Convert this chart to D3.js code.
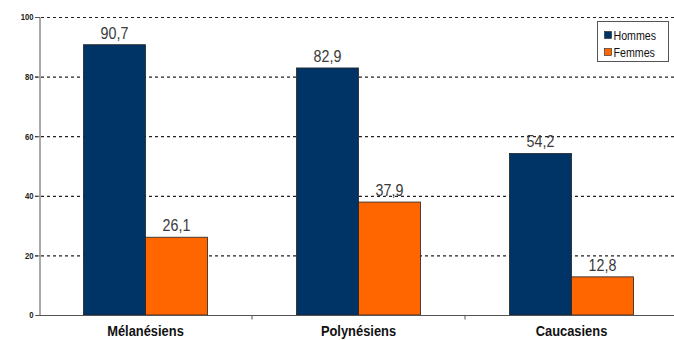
<!DOCTYPE html>
<html><head><meta charset="utf-8">
<script src="https://cdn.jsdelivr.net/npm/d3@7"></script>
<style>body{margin:0;background:#fff}svg{display:block}</style>
</head><body>
<svg id="c" width="674" height="340"></svg>
<script>
const categories = ["Mélanésiens", "Polynésiens", "Caucasiens"];
const series = ["Hommes", "Femmes"];
const hommes = [90.7, 82.9, 54.2];
const femmes = [26.1, 37.9, 12.8];
const yTicks = [0, 20, 40, 60, 80, 100];
const colors = ["#003366", "#ff6600"];

const FONT = "'Liberation Sans', Arial, sans-serif";
const svg = d3.select("#c");
const x0 = d3.scaleBand().domain(categories).range([39, 678]);
const bw = x0.bandwidth();
const x1 = d3.scaleBand().domain(series).range([bw * 0.209, bw * 0.791]);
const y = d3.scaleLinear().domain([0, 100]).range([315, 17]);
const data = categories.map((c, i) => ({cat: c, vals: [hommes[i], femmes[i]]}));

// gridlines
svg.append("g").selectAll("line").data(yTicks.filter(t => t > 0)).join("line")
  .attr("x1", 35).attr("x2", 674)
  .attr("y1", d => y(d) + 0.5).attr("y2", d => y(d) + 0.5)
  .attr("stroke", "#222").attr("stroke-width", 1.2).attr("stroke-dasharray", "3,3");

// y axis
const yAxis = svg.append("g").attr("transform", "translate(39.5,0)")
  .call(d3.axisLeft(y).tickValues(yTicks).tickSize(4).tickFormat(d3.format("d")));
yAxis.select(".domain").attr("stroke", "#555");
yAxis.selectAll(".tick line").attr("stroke", "#555");
yAxis.selectAll("text").attr("font-family", FONT)
  .attr("font-size", 9).attr("font-weight", "bold").attr("fill", "#222").attr("x", -6)
  .attr("transform", "scale(0.85,1)").attr("dx", -1);

// bars
const groups = svg.append("g").selectAll("g").data(data).join("g")
  .attr("transform", d => `translate(${x0(d.cat)},0)`);
groups.selectAll("rect").data(d => d.vals.map((v, j) => ({s: series[j], v, j}))).join("rect")
  .attr("x", d => x1(d.s)).attr("width", x1.bandwidth())
  .attr("y", d => y(d.v)).attr("height", d => y(0) - y(d.v))
  .attr("fill", d => colors[d.j]).attr("stroke", "#222").attr("stroke-width", 0.8);
groups.selectAll("text").data(d => d.vals.map((v, j) => ({s: series[j], v, j}))).join("text")
  .attr("transform", d => `translate(${x1(d.s) + x1.bandwidth() / 2},${y(d.v) - 6}) scale(0.84,1)`)
  .attr("text-anchor", "middle")
  .attr("font-family", FONT)
  .attr("font-size", 17).attr("fill", "#3a3a3a")
  .text(d => d3.format(".1f")(d.v).replace(".", ","));

// x axis
const xAxis = svg.append("g").attr("transform", "translate(0,315.5)");
xAxis.append("line").attr("x1", 39).attr("x2", 674).attr("stroke", "#555");
xAxis.selectAll("line.t").data(categories.slice(1)).join("line").attr("class", "t")
  .attr("x1", d => x0(d)).attr("x2", d => x0(d)).attr("y1", 0).attr("y2", 4).attr("stroke", "#555");
xAxis.selectAll("text").data(categories).join("text")
  .attr("transform", d => `translate(${x0(d) + bw / 2},20.5) scale(0.86,1)`)
  .attr("text-anchor", "middle")
  .attr("font-family", FONT)
  .attr("font-size", 15).attr("font-weight", "bold").attr("fill", "#111")
  .text(d => d);

// legend
const lg = svg.append("g").attr("transform", "translate(597.5,21.5)");
lg.append("rect").attr("width", 71).attr("height", 40).attr("fill", "#fff").attr("stroke", "#555");
series.forEach((s, i) => {
  const row = lg.append("g").attr("transform", `translate(7,${10 + i * 17})`);
  row.append("rect").attr("width", 7).attr("height", 7).attr("fill", colors[i]).attr("stroke", "#222").attr("stroke-width", 0.6);
  row.append("text").attr("transform", "translate(9,8) scale(0.82,1)")
    .attr("font-family", FONT)
    .attr("font-size", 13).attr("fill", "#111").text(s);
});
</script>
</body></html>
